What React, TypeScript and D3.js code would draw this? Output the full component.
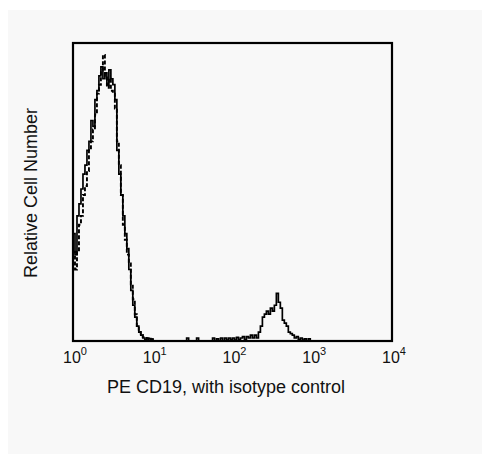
import React from "react";
import * as d3 from "d3";

// Histogram channels: each bin is 0.025 decade wide starting at 10^0
const binStep = 0.025;
// Solid line: CD19 stained (relative counts, 100 = top of frame)
const solidCounts = [
  36, 29, 42, 46, 51, 56, 59, 64, 67, 74, 72, 81, 84, 89, 92, 88, 90, 86, 91, 88,
  86, 81, 64, 56, 49, 42, 36, 31, 24, 17, 12, 8, 5, 3, 2, 1, 0.5, 1, 0, 0.6,
  0, 0, 0, 0, 0, 0, 0, 0, 0, 0, 0, 0, 0, 0, 0, 0, 0, 1, 0, 0,
  0, 0, 1, 0, 0, 0, 0, 0, 0, 0, 1, 0, 0.7, 0, 1, 0, 1, 0.3, 1, 0.5,
  1, 0.3, 1.2, 0.5, 1, 1.5, 0.5, 1.5, 1, 2, 1, 2, 1, 3, 5, 8, 9, 10, 9, 11,
  10, 12, 16, 13, 11, 7, 6, 5, 3, 2.5, 2, 1, 1.5, 0.5, 1, 0.3, 0.7, 0, 0.7, 0,
];
// Dashed line: isotype control
const dashedCounts = [
  30, 24, 30, 39, 42, 49, 52, 57, 64, 67, 71, 76, 83, 86, 91, 96, 89, 85, 88, 84,
  83, 78, 67, 59, 49, 39, 34, 29, 26, 19, 14, 9, 5, 3, 2, 1.3, 1, 0.3, 0.8, 0,
  0.6, 0,
];
const tickExponents = [0, 1, 2, 3, 4];
const xTitle = "PE CD19, with isotype control";
const yTitle = "Relative Cell Number";

const W = 482;
const H = 454;
const left = 73;
const right = 392;
const top = 43;
const bottom = 341;

export default function App() {
  const x = d3.scaleLog().domain([1, 10000]).range([left, right]);
  const y = d3.scaleLinear().domain([0, 100]).range([bottom, top]);

  const toPoints = (counts: number[]) => {
    const pts: [number, number][] = counts.map((c, i) => [
      Math.pow(10, i * binStep),
      c,
    ]);
    pts.push([Math.pow(10, counts.length * binStep), 0]);
    return pts;
  };

  const line = d3
    .line<[number, number]>()
    .x((d) => x(d[0]))
    .y((d) => y(d[1]))
    .curve(d3.curveStepAfter);

  const font = "'Liberation Sans', Arial, sans-serif";

  return (
    <svg
      width={W}
      height={H}
      style={{ position: "absolute", left: 0, top: 0 }}
      fontFamily={font}
    >
      <rect x={0} y={0} width={W} height={H} fill="#ffffff" />
      <rect x={8} y={10} width={W - 8} height={H - 10} fill="#f8f8f8" />
      <path
        d={line(toPoints(dashedCounts)) || ""}
        fill="none"
        stroke="#000"
        strokeWidth={1.9}
        strokeDasharray="4,2"
      />
      <path
        d={line(toPoints(solidCounts)) || ""}
        fill="none"
        stroke="#000"
        strokeWidth={1.7}
      />
      <rect
        x={left}
        y={top}
        width={right - left}
        height={bottom - top}
        fill="none"
        stroke="#000"
        strokeWidth={2.2}
      />
      {tickExponents.map((e) => (
        <text
          key={e}
          x={x(Math.pow(10, e)) + 2}
          y={363}
          textAnchor="middle"
          fontSize={16}
          fill="#111"
        >
          10
          <tspan fontSize={11} dy={-8}>
            {e}
          </tspan>
        </text>
      ))}
      <text
        x={226}
        y={393}
        textAnchor="middle"
        fontSize={18}
        fill="#111"
      >
        {xTitle}
      </text>
      <text
        transform={`translate(37,193) rotate(-90)`}
        textAnchor="middle"
        fontSize={18}
        fill="#111"
      >
        {yTitle}
      </text>
    </svg>
  );
}
